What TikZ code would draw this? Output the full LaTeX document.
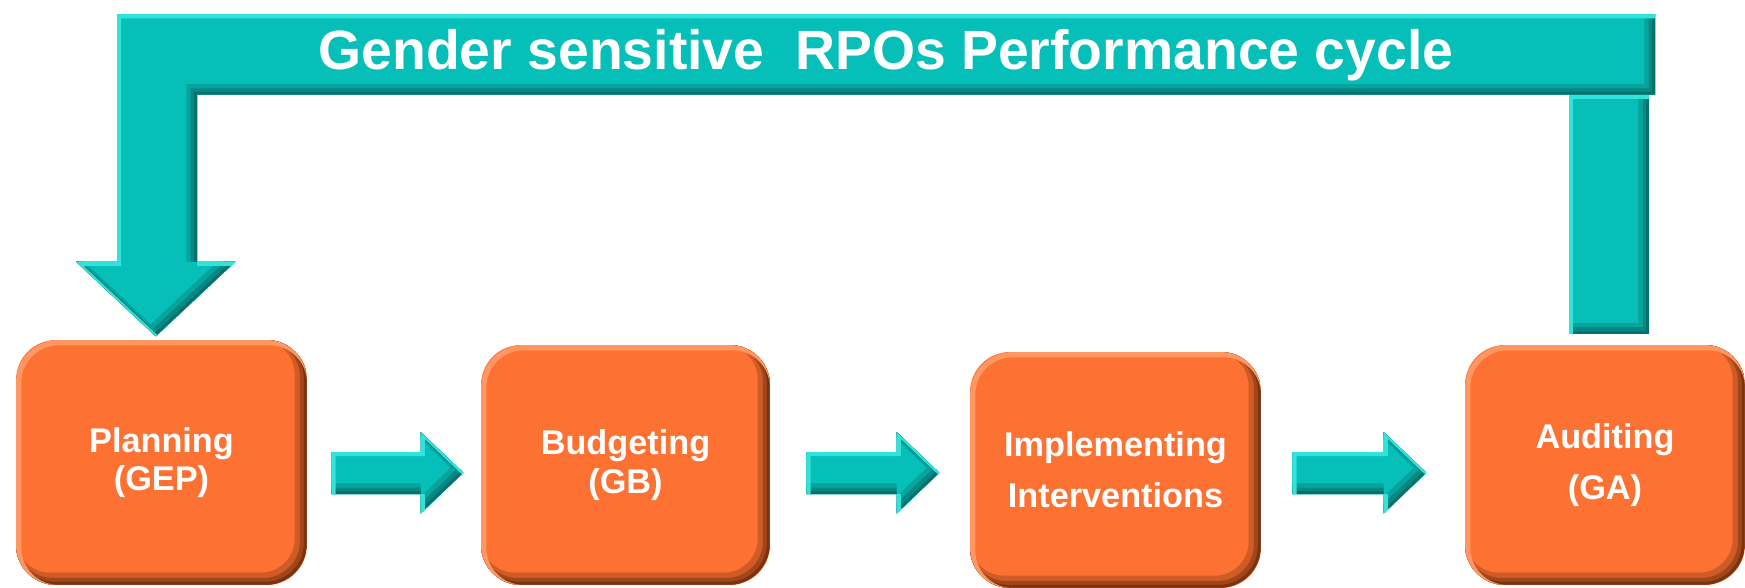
\documentclass[tikz,border=0pt]{standalone}
\usepackage{fontspec}
\setmainfont{Liberation Sans}
\usetikzlibrary{calc}

\definecolor{tealmain}{HTML}{06BFB8}
\definecolor{tealdark}{HTML}{06716C}
\definecolor{teallight}{HTML}{48F6EE}
\definecolor{orangemain}{HTML}{FD7132}
\definecolor{orangedark}{HTML}{7A3311}
\definecolor{orangelight}{HTML}{FFA777}

% filled shape with a soft dark lower/right bevel and a light upper/left edge
\newcommand\bevelpath[4]{%
  \begin{scope}
    \clip #1;
    \fill[#2] #1;
    \draw[#3!35!#2, line width=6pt, transform canvas={shift={(-3pt,3pt)}}] #1;
    \draw[#3!70!#2, line width=3.6pt, transform canvas={shift={(-1.8pt,1.8pt)}}] #1;
    \draw[#3, line width=1.6pt, transform canvas={shift={(-0.8pt,0.8pt)}}] #1;
    \draw[#4!65!#2, line width=2.4pt, transform canvas={shift={(1.2pt,-1.2pt)}}] #1;
  \end{scope}}

% block arrow from shaft start #1 to tip #2 (same height)
\newcommand\flowarrow[2]{%
  \bevelpath{($(#1)+(0,-21)$) -- ($(#2)+(-43,-21)$) -- ($(#2)+(-43,-41)$) -- (#2)
    -- ($(#2)+(-43,41)$) -- ($(#2)+(-43,21)$) -- ($(#1)+(0,21)$) -- cycle}%
    {tealmain}{tealdark}{teallight}}

\tikzset{
  stage/.style={rounded corners=0.8cm, fill=orangemain, text=white,
    font=\bfseries\fontsize{19.5}{22}\selectfont, align=center, inner sep=0pt,
    path picture={
      \draw[orangedark!35!orangemain, line width=7pt, rounded corners=0.8cm]
        ([xshift=-3.5pt,yshift=3.5pt]path picture bounding box.south west) rectangle
        ([xshift=-3.5pt,yshift=3.5pt]path picture bounding box.north east);
      \draw[orangedark!70!orangemain, line width=4pt, rounded corners=0.8cm]
        ([xshift=-2pt,yshift=2pt]path picture bounding box.south west) rectangle
        ([xshift=-2pt,yshift=2pt]path picture bounding box.north east);
      \draw[orangedark, line width=1.8pt, rounded corners=0.8cm]
        ([xshift=-0.9pt,yshift=0.9pt]path picture bounding box.south west) rectangle
        ([xshift=-0.9pt,yshift=0.9pt]path picture bounding box.north east);
      \draw[orangelight!70!orangemain, line width=3pt, rounded corners=0.8cm]
        ([xshift=1.5pt,yshift=-1.5pt]path picture bounding box.south west) rectangle
        ([xshift=1.5pt,yshift=-1.5pt]path picture bounding box.north east);
    }},
  widelines/.style={font=\bfseries\fontsize{19.5}{29}\selectfont},
  titletext/.style={text=white, font=\bfseries\fontsize{31.5}{34}\selectfont, inner sep=0pt}
}

\begin{document}
\begin{tikzpicture}[x=0.02cm, y=-0.02cm]
  \useasboundingbox (0,0) rectangle (1745,588);

  % stages
  \path node[stage, minimum width=5.82cm, minimum height=4.9cm] (plan) at (161.5,462.5) {Planning\\(GEP)}
        node[stage, minimum width=5.78cm, minimum height=4.8cm] (budget) at (625.5,465) {Budgeting\\(GB)}
        node[stage, widelines, minimum width=5.82cm, minimum height=4.72cm] (impl) at (1115.5,470) {Implementing\\Interventions}
        node[stage, widelines, minimum width=5.6cm, minimum height=4.8cm] (audit) at (1605,465) {Auditing\\(GA)};

  % feedback arrow from auditing back to planning
  \coordinate (fbR) at ($(audit.north)+(4,-11)$);
  \coordinate (fbT) at ($(plan.north)+(-5.5,-3)$);
  \coordinate (barL) at ($(fbT)+(-39,-322.5)$);
  \coordinate (barR) at ($(fbR)+(46,-319.5)$);

  \bevelpath{($(fbR)+(-40,-239)$) rectangle ($(fbR)+(40,0)$)}{tealmain}{tealdark}{teallight}
  \bevelpath{(barL) -- (barR) -- ($(barR)+(0,80.5)$) -- ($(barL)+(80,80.5)$)
    -- ($(fbT)+(41,-75)$) -- ($(fbT)+(80,-75)$) -- (fbT) -- ($(fbT)+(-80,-75)$)
    -- ($(fbT)+(-39,-75)$) -- cycle}{tealmain}{tealdark}{teallight}

  \node[titletext] (ttl) at ($(barL)!0.5!(barR)+(0,41)$) {Gender sensitive\ \ RPOs Performance cycle};

  % flow arrows between stages
  \coordinate (a1s) at ($(plan.east)+(24,10.5)$);
  \coordinate (a1e) at ($(budget.west |- a1s)+(-17,0)$);
  \coordinate (a2s) at ($(budget.east |- a1s)+(36,0)$);
  \coordinate (a2e) at ($(impl.west |- a1s)+(-30,0)$);
  \coordinate (a3s) at ($(impl.east |- a1s)+(31,0)$);
  \coordinate (a3e) at ($(audit.west |- a1s)+(-38,0)$);
  \flowarrow{a1s}{a1e}
  \flowarrow{a2s}{a2e}
  \flowarrow{a3s}{a3e}
\end{tikzpicture}
\end{document}
